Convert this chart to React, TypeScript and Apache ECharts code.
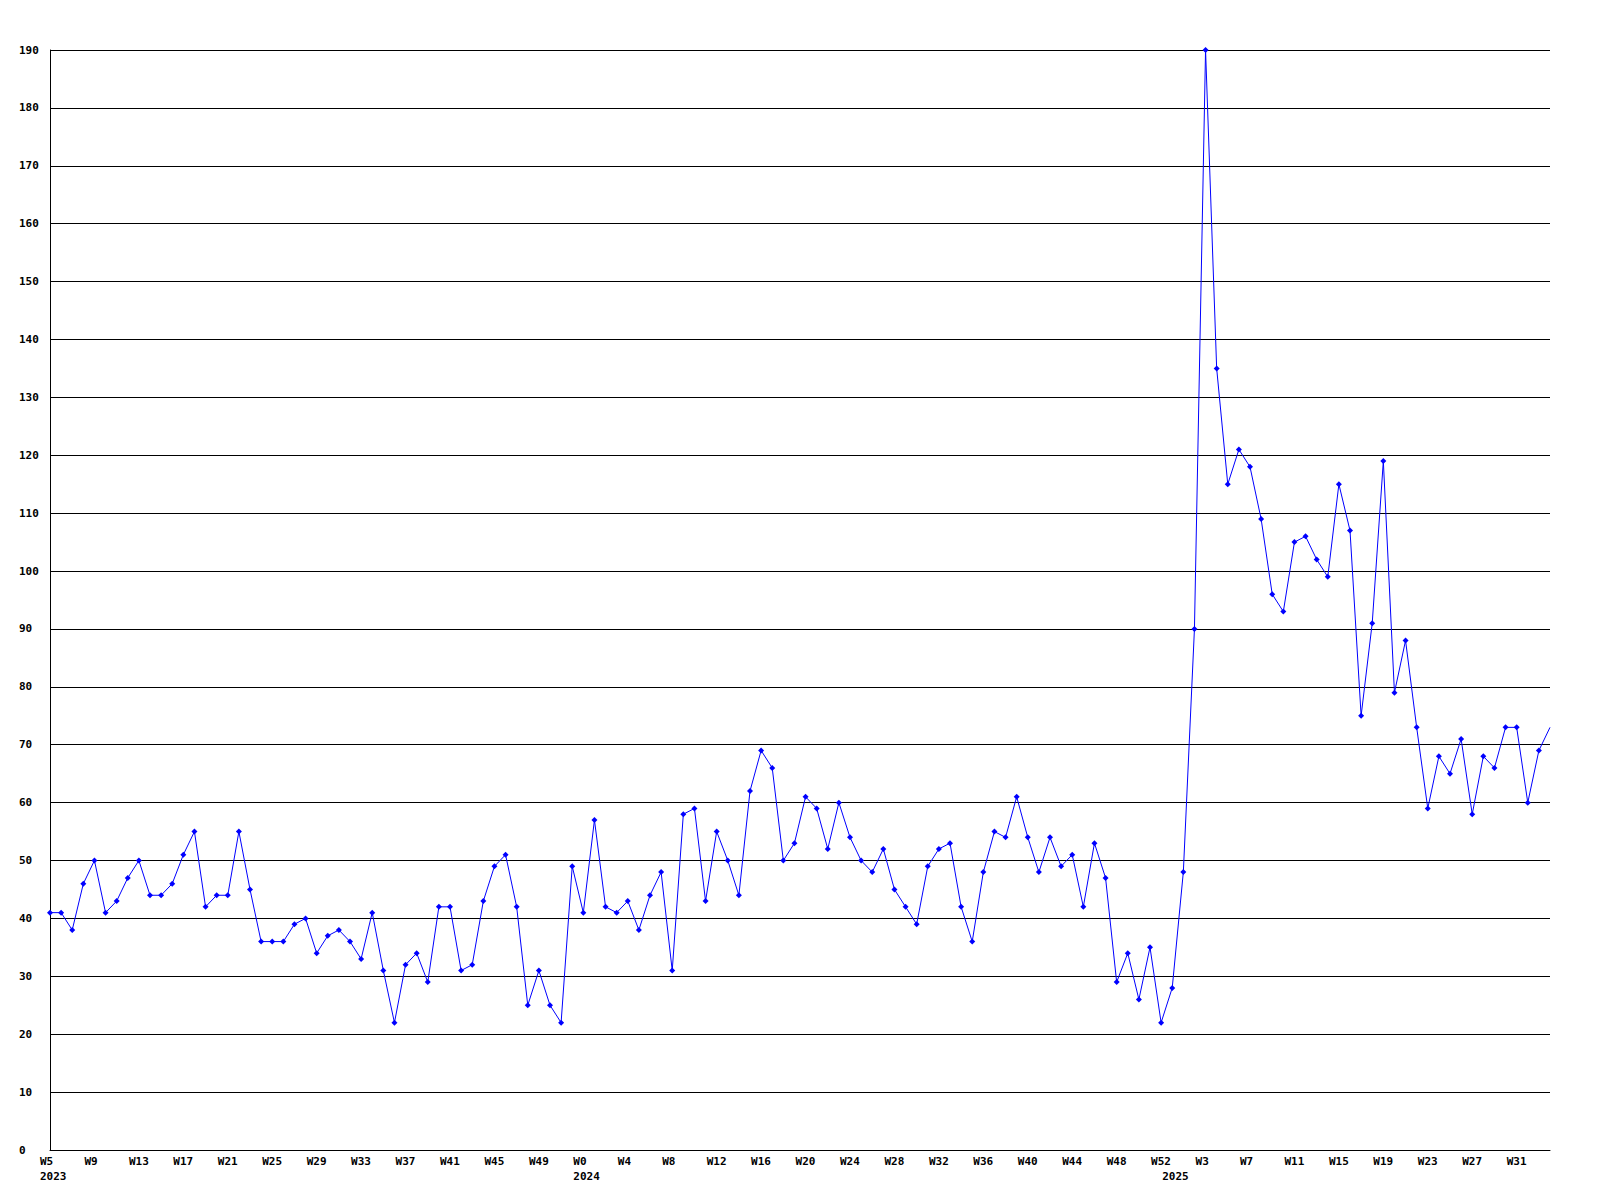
import React, { useEffect, useRef } from "react";
import * as echarts from "echarts";

// Week ranges per year (x-axis categories)
const yearSegments = [
  { year: "2023", firstWeek: 5, lastWeek: 52 },
  { year: "2024", firstWeek: 0, lastWeek: 52 },
  { year: "2025", firstWeek: 0, lastWeek: 34 },
];

// Weekly values per year
const values2023 = [
  41, 41, 38, 46, 50, 41, 43, 47, 50, 44, 44, 46, 51, 55, 42, 44, 44, 55, 45, 36,
  36, 36, 39, 40, 34, 37, 38, 36, 33, 41, 31, 22, 32, 34, 29, 42, 42, 31, 32, 43,
  49, 51, 42, 25, 31, 25, 22, 49,
];
const values2024 = [
  41, 57, 42, 41, 43, 38, 44, 48, 31, 58, 59, 43, 55, 50, 44, 62, 69, 66, 50, 53,
  61, 59, 52, 60, 54, 50, 48, 52, 45, 42, 39, 49, 52, 53, 42, 36, 48, 55, 54, 61,
  54, 48, 54, 49, 51, 42, 53, 47, 29, 34, 26, 35, 22,
];
const values2025 = [
  28, 48, 90, 190, 135, 115, 121, 118, 109, 96, 93, 105, 106, 102, 99, 115, 107, 75,
  91, 119, 79, 88, 73, 59, 68, 65, 71, 58, 68, 66, 73, 73, 60, 69, 73,
];

const yTicks = { min: 0, max: 190, interval: 10 };

export default function App() {
  const ref = useRef<HTMLDivElement>(null);

  useEffect(() => {
    if (!ref.current) return;
    const chart = echarts.init(ref.current, undefined, { renderer: "svg" });

    const categories: string[] = [];
    const yearStart: Record<number, string> = {};
    yearSegments.forEach((s) => {
      yearStart[categories.length] = s.year;
      for (let w = s.firstWeek; w <= s.lastWeek; w++) categories.push("W" + w);
    });
    const data = [...values2023, ...values2024, ...values2025];
    const lastIdx = data.length - 1;

    const font = {
      fontFamily: "DejaVu Sans Mono",
      fontWeight: "bold" as const,
      fontSize: 11,
      color: "#000",
    };

    chart.setOption({
      animation: false,
      backgroundColor: "#fff",
      grid: { left: 50, right: 50, top: 50, bottom: 50, containLabel: false },
      xAxis: {
        type: "category",
        data: categories,
        boundaryGap: false,
        axisLine: { show: true, lineStyle: { color: "#000", width: 1 } },
        axisTick: { show: false },
        splitLine: { show: false },
        axisLabel: {
          ...font,
          align: "left",
          padding: [0, 0, 0, -10],
          margin: 4,
          lineHeight: 15,
          interval: (i: number) => i % 4 === 0 || yearStart[i] !== undefined,
          formatter: (v: string, i: number) => {
            const first = i % 4 === 0 ? v : " ";
            return yearStart[i] !== undefined ? first + "\n" + yearStart[i] : first;
          },
        },
      },
      yAxis: {
        type: "value",
        min: yTicks.min,
        max: yTicks.max,
        interval: yTicks.interval,
        axisLine: { show: true, lineStyle: { color: "#000", width: 1 } },
        axisTick: { show: false },
        splitLine: { show: true, lineStyle: { color: "#000", width: 1 } },
        axisLabel: { ...font, align: "left", margin: 31 },
      },
      series: [
        {
          type: "line",
          data,
          symbol: (_v: any, p: any) => (p.dataIndex === lastIdx ? "none" : "diamond"),
          symbolSize: 6,
          showAllSymbol: true,
          lineStyle: { color: "#0000ff", width: 1 },
          itemStyle: { color: "#0000ff" },
          clip: true,
        },
      ],
    });

    return () => chart.dispose();
  }, []);

  return (
    <div
      ref={ref}
      style={{ position: "fixed", left: 0, top: 0, width: 1600, height: 1200, background: "#fff" }}
    />
  );
}
